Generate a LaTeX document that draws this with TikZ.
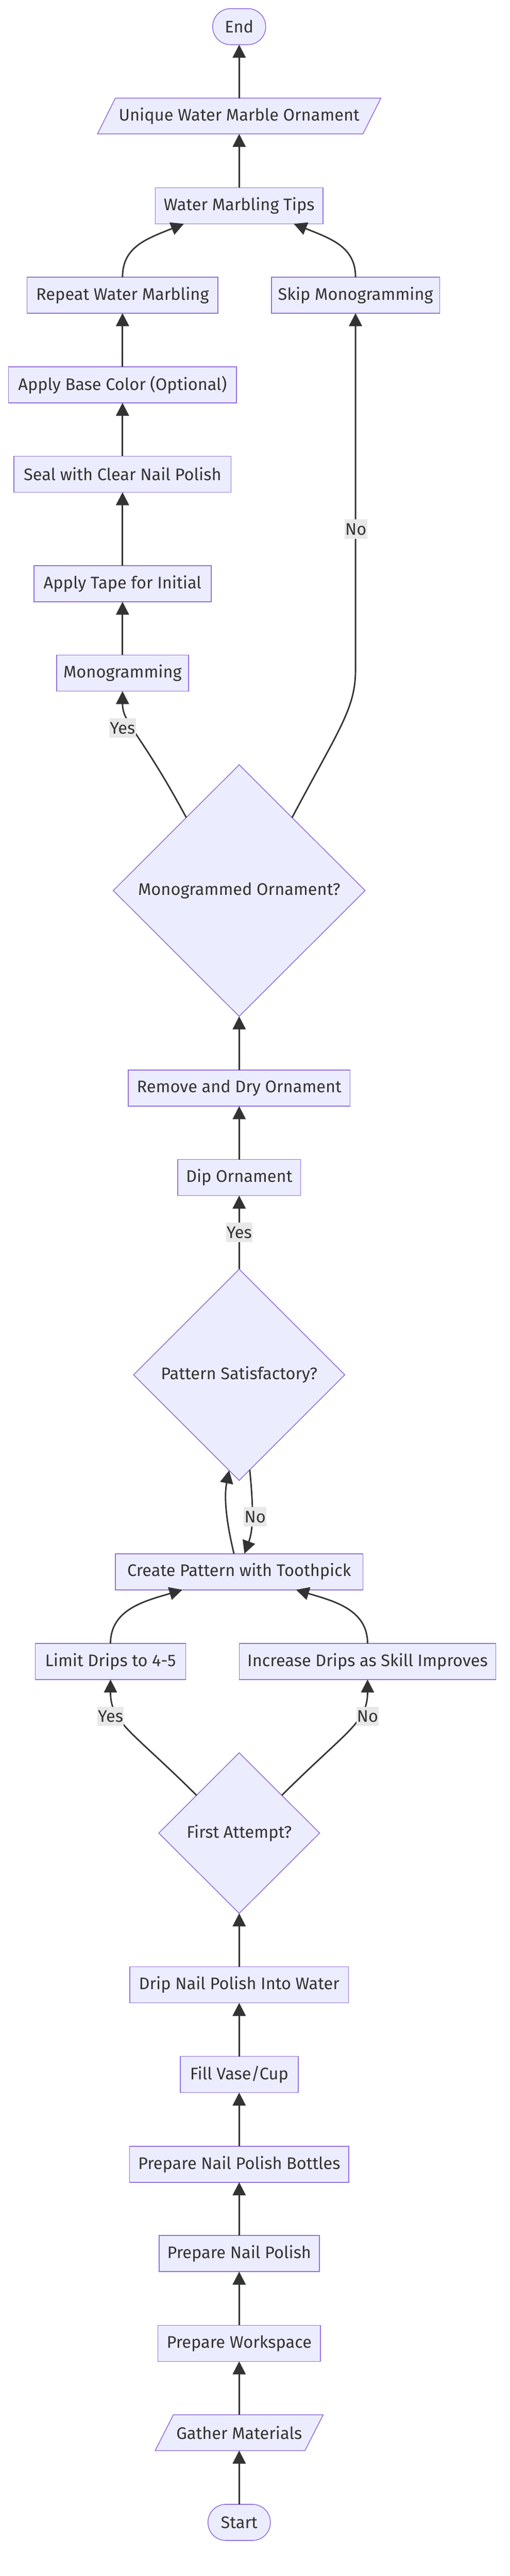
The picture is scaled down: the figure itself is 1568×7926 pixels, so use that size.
\documentclass[tikz,border=0pt]{standalone}
\usepackage{fontspec}
\setmainfont{Fira Sans}
\usetikzlibrary{shapes.geometric,arrows.meta,calc,backgrounds}
\definecolor{nfill}{HTML}{ECECFF}
\definecolor{nborder}{HTML}{9370DB}
\definecolor{ink}{HTML}{333333}
\definecolor{lblbg}{HTML}{E8E8E8}
\newlength\refw
\AtBeginDocument{%
  \settowidth{\refw}{\normalfont\fontsize{10pt}{12pt}\selectfont Prepare Nail Polish Bottles}%
  \pgfmathsetmacro{\fs}{6220/\refw}%
  \global\let\fs\fs}
\newcommand\mainfs{\fontsize{\fs pt}{\fs pt}\selectfont}
\tikzset{
  mbase/.style={outer sep=0pt, inner sep=0pt, text=ink, font=\mainfs},
  nbox/.style={mbase, rectangle, draw=nborder, fill=nfill, line width=2.5pt, minimum height=111pt},
  stadium/.style={nbox, rounded corners=55pt},
  parabox/.style={mbase, rectangle, minimum height=110pt},
  paraborder/.style={draw=nborder, fill=nfill, line width=2.5pt, line join=miter},
  decision/.style={mbase, diamond, aspect=1, draw=nborder, fill=nfill, line width=2.5pt},
  flow/.style={draw=ink, line width=4.5pt, -{Triangle[length=40pt,width=40pt]}},
  elabel/.style={mbase, fill=lblbg, minimum height=60pt, inner xsep=2pt},
}
\begin{document}
\begin{tikzpicture}[x=1pt,y=-1pt]
\useasboundingbox (0,0) rectangle (1568,7926);
% nodes
\node[stadium, minimum width=163pt] (endn) at (736,82) {End};
\node[parabox, minimum width=817pt] (unique) at (736,357) {Unique Water Marble Ornament};
\node[nbox, minimum width=516pt] (tips) at (736,633) {Water Marbling Tips};
\node[nbox, minimum width=587pt] (repeatn) at (377,908) {Repeat Water Marbling};
\node[nbox, minimum width=518pt] (skip) at (1094,908) {Skip Monogramming};
\node[nbox, minimum width=702pt] (basec) at (377,1184) {Apply Base Color (Optional)};
\node[nbox, minimum width=668pt] (seal) at (377,1459) {Seal with Clear Nail Polish};
\node[nbox, minimum width=545pt] (tape) at (377,1796) {Apply Tape for Initial};
\node[nbox, minimum width=406pt] (mono) at (377,2071) {Monogramming};
\node[decision, minimum width=775pt, minimum height=774pt] (monoq) at (736,2740) {Monogrammed Ornament?};
\node[nbox, minimum width=682pt] (remove) at (736,3348) {Remove and Dry Ornament};
\node[nbox, minimum width=378pt] (dip) at (736,3623) {Dip Ornament};
\node[decision, minimum width=650pt, minimum height=650pt] (patq) at (736,4230) {Pattern Satisfactory?};
\node[nbox, minimum width=762pt] (create) at (736,4836) {Create Pattern with Toothpick};
\node[nbox, minimum width=463pt] (limit) at (340,5112) {Limit Drips to 4-5};
\node[nbox, minimum width=790pt] (incr) at (1131,5112) {Increase Drips as Skill Improves};
\node[decision, minimum width=495pt, minimum height=494pt] (firstq) at (736,5640) {First Attempt?};
\node[nbox, minimum width=673pt] (drip) at (736,6107) {Drip Nail Polish Into Water};
\node[nbox, minimum width=363pt] (fillv) at (736,6383) {Fill Vase/Cup};
\node[nbox, minimum width=675pt] (bottles) at (736,6659) {Prepare Nail Polish Bottles};
\node[nbox, minimum width=493pt] (polish) at (736,6934) {Prepare Nail Polish};
\node[nbox, minimum width=500pt] (workspace) at (736,7210) {Prepare Workspace};
\node[parabox, minimum width=461pt] (gather) at (736,7485) {Gather Materials};
\node[stadium, minimum width=192pt] (start) at (736,7761) {Start};
% parallelogram outlines
\begin{scope}[on background layer]
\draw[paraborder] ($(unique.north west)+(27.5,0)$) -- ($(unique.north east)+(27.5,0)$) -- ($(unique.south east)+(-27.5,0)$) -- ($(unique.south west)+(-27.5,0)$) -- cycle;
\draw[paraborder] ($(gather.north west)+(28,0)$) -- ($(gather.north east)+(28,0)$) -- ($(gather.south east)+(-28,0)$) -- ($(gather.south west)+(-28,0)$) -- cycle;
\end{scope}
% connectors
\coordinate (nobend) at (1094,2060);
\draw[flow] (start) -- (gather);
\draw[flow] (gather) -- (workspace);
\draw[flow] (workspace) -- (polish);
\draw[flow] (polish) -- (bottles);
\draw[flow] (bottles) -- (fillv);
\draw[flow] (fillv) -- (drip);
\draw[flow] (drip) -- (firstq);
\draw[flow] ($(firstq.north)!0.53!(firstq.west)$) .. controls (405,5325) and (340,5300) .. (limit.south);
\draw[flow] ($(firstq.north)!0.53!(firstq.east)$) .. controls (1067,5325) and (1131,5300) .. (incr.south);
\draw[flow] (limit.north) .. controls (340,4950) and (450,4925) .. ($(create.south)+(-175,0)$);
\draw[flow] (incr.north) .. controls (1131,4950) and (1022,4925) .. ($(create.south)+(175,0)$);
\draw[flow] ($(create.north)+(-16,0)$) .. controls (698,4690) and (688,4610) .. ($(patq.south)!0.095!(patq.west)$);
\draw[flow] ($(patq.south)!0.10!(patq.east)$) .. controls (778,4620) and (782,4700) .. ($(create.north)+(16,0)$);
\draw[flow] (patq) -- (dip);
\draw[flow] (dip) -- (remove);
\draw[flow] (remove) -- (monoq);
\draw[flow] ($(monoq.north)!0.42!(monoq.west)$) .. controls (430,2250) and (377,2225) .. (mono.south);
\draw[flow] ($(monoq.north)!0.42!(monoq.east)$) .. controls (1045,2240) and (1094,2180) .. (nobend) -- (skip.south);
\draw[flow] (mono) -- (tape);
\draw[flow] (tape) -- (seal);
\draw[flow] (seal) -- (basec);
\draw[flow] (basec) -- (repeatn);
\draw[flow] (repeatn.north) .. controls (377,760) and (450,735) .. ($(tips.south)+(-170,0)$);
\draw[flow] (skip.north) .. controls (1094,760) and (1020,735) .. ($(tips.south)+(168,0)$);
\draw[flow] (tips) -- (unique);
\draw[flow] (unique) -- (endn);
% edge labels
\node[elabel] (ly1) at (377,2240) {Yes};
\node[elabel] (ln1) at (1095,1628) {No};
\node[elabel] (ly2) at (736,3792) {Yes};
\node[elabel] (ln2) at (785,4667) {No};
\node[elabel] (ly3) at (340,5281) {Yes};
\node[elabel] (ln3) at (1131,5281) {No};
\end{tikzpicture}
\end{document}
